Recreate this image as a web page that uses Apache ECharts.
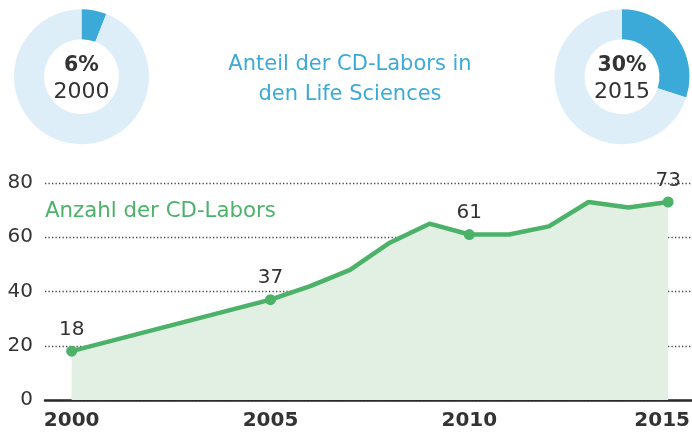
<!DOCTYPE html>
<html>
<head>
<meta charset="utf-8">
<script src="https://cdn.jsdelivr.net/npm/echarts@6/dist/echarts.min.js"></script>
<style>html,body{margin:0;padding:0;background:#fff}#c{width:692px;height:433px}</style>
</head>
<body>
<div id="c"></div>
<script>
// Data
const years = [2000, 2005, 2006, 2007, 2008, 2009, 2010, 2011, 2012, 2013, 2014, 2015];
const labCounts = [18, 37, 42, 48, 58, 65, 61, 61, 64, 73, 71, 73];
const labeledYears = [2000, 2005, 2010, 2015];
const xTickLabels = [2000, 2005, 2010, 2015];
const shareYears = ['2000', '2015'];
const shareValues = [6, 30];
const titleText = 'Anteil der CD-Labors in\nden Life Sciences';
const seriesName = 'Anzahl der CD-Labors';

const FONT = 'DejaVu Sans';
const GREEN = '#4cb26a';
const BLUE = '#3caad8';
const LIGHTBLUE = '#ddeef8';
const TXT = '#333333';

const lineData = years.map((y, i) => {
  const lab = labeledYears.includes(y);
  return {
    value: [y, labCounts[i]],
    symbol: lab ? 'circle' : 'none',
    label: { show: lab }
  };
});

function donut(idx, cx) {
  return {
    type: 'pie',
    silent: true,
    center: [cx, 76.7],
    radius: [37.5, 67.5],
    startAngle: 90,
    clockwise: true,
    label: { show: false },
    labelLine: { show: false },
    data: [
      { value: shareValues[idx], itemStyle: { color: BLUE } },
      { value: 100 - shareValues[idx], itemStyle: { color: LIGHTBLUE } }
    ]
  };
}

function donutText(idx, cx) {
  return {
    type: 'text',
    x: cx, y: 79,
    style: {
      text: '{b|' + shareValues[idx] + '%}\n{n|' + shareYears[idx] + '}',
      align: 'center', verticalAlign: 'middle',
      rich: {
        b: { fontFamily: FONT, fontSize: 20.5, fontWeight: 'bold', fill: TXT, lineHeight: 26, align: 'center' },
        n: { fontFamily: FONT, fontSize: 22, fill: TXT, lineHeight: 26, align: 'center' }
      }
    }
  };
}

const lastTick = xTickLabels[xTickLabels.length - 1];
const xLabelFont = { fontFamily: FONT, fontSize: 20, fontWeight: 'bold', color: TXT };

const chart = echarts.init(document.getElementById('c'), null, { renderer: 'canvas' });
chart.setOption({
  animation: false,
  backgroundColor: '#fff',
  grid: { left: 45, right: 0, top: 183, bottom: 33, containLabel: false, outerBoundsMode: 'none' },
  xAxis: {
    type: 'value',
    min: 1999.33,
    max: 2015.6,
    axisLine: { show: true, onZero: false, lineStyle: { color: '#2a2a2a', width: 2.5 } },
    axisTick: { show: false },
    splitLine: { show: false },
    axisLabel: Object.assign({
      customValues: xTickLabels,
      margin: 11,
      formatter: v => (v === lastTick ? '{r|' + v + '}' : String(v)),
      rich: { r: Object.assign({ padding: [0, 12, 0, 0] }, xLabelFont) }
    }, xLabelFont)
  },
  yAxis: {
    type: 'value',
    min: 0, max: 80, interval: 20,
    axisLine: { show: false },
    axisTick: { show: false },
    axisLabel: { margin: 12, fontFamily: FONT, fontSize: 20, color: TXT },
    splitLine: { show: true, lineStyle: { color: '#444', width: 1.4, type: [1.3, 2.2] } }
  },
  series: [
    {
      type: 'line',
      name: seriesName,
      data: lineData,
      symbolSize: 11,
      lineStyle: { color: GREEN, width: 4.5 },
      itemStyle: { color: GREEN },
      areaStyle: { color: '#e2f0e3', opacity: 1 },
      label: {
        position: 'top', distance: 6,
        fontFamily: FONT, fontSize: 20, color: TXT,
        formatter: p => String(p.value[1])
      },
      z: 3
    },
    donut(0, 81.5),
    donut(1, 622)
  ],
  graphic: [
    {
      type: 'text', x: 350, y: 80,
      style: {
        text: titleText, align: 'center', verticalAlign: 'middle',
        fontFamily: FONT, fontSize: 21, lineHeight: 30, fill: BLUE
      }
    },
    {
      type: 'text', x: 45, y: 211,
      style: {
        text: seriesName, align: 'left', verticalAlign: 'middle',
        fontFamily: FONT, fontSize: 21.3, fill: GREEN
      }
    },
    donutText(0, 81.5),
    donutText(1, 622)
  ]
});
</script>
</body>
</html>
